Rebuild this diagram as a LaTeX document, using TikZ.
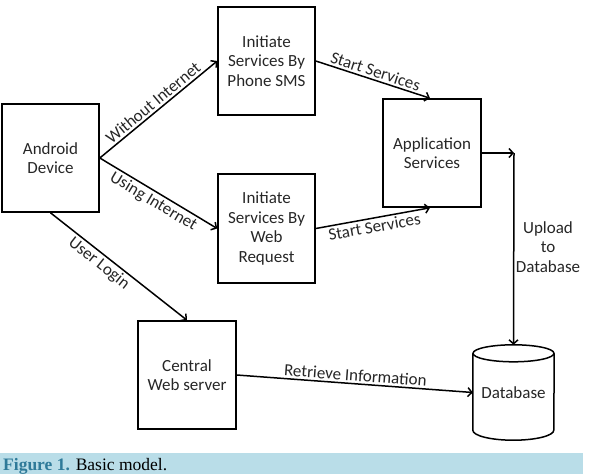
\documentclass[tikz,border=0pt]{standalone}
\usepackage{fontspec}
\setmainfont{Carlito}
\newfontfamily\capfont{Liberation Serif}
\usetikzlibrary{arrows.meta}
\definecolor{txt}{HTML}{262626}
\definecolor{band}{HTML}{B9DDE8}
\definecolor{figc}{HTML}{2E7A99}
\tikzset{
  box/.style={draw, line width=1.6pt, rectangle, align=center, text=txt,
    font=\fontsize{17}{19.5}\selectfont, inner sep=2pt},
  conn/.style={line width=1.5pt, -{Straight Barb[length=4pt,width=9pt,line width=1.5pt]}},
  lbl/.style={text=txt, font=\fontsize{17}{19.5}\selectfont, inner sep=2pt}
}
\begin{document}
\begin{tikzpicture}[x=1pt,y=-1pt]
\useasboundingbox (0,0) rectangle (589,474);
% caption band
\fill[band] (0,453) rectangle (583,474);
\node[anchor=base west, inner sep=0pt, font=\capfont\fontsize{17.5}{20}\selectfont] (cap) at (3,470)
  {\textcolor{figc}{\textbf{Figure 1.}} Basic model.};
% boxes
\node[box, minimum width=97pt, minimum height=108pt] (android) at (50.5,158) {Android\\Device};
\node[box, minimum width=97pt, minimum height=108pt] (sms) at (266.5,61) {Initiate\\Services By\\Phone SMS};
\node[box, minimum width=97pt, minimum height=109pt] (web) at (266.5,228.5) {Initiate\\Services By\\Web\\Request};
\node[box, minimum width=98pt, minimum height=108pt] (app) at (432,153) {Application\\Services};
\node[box, minimum width=98pt, minimum height=108pt] (central) at (187,375) {Central\\Web server};
% database cylinder
\node[lbl, minimum width=81pt, minimum height=95pt] (db) at (513.5,392.5) {\raisebox{-4pt}{Database}};
\draw[line width=1.5pt] ([yshift=-8.5pt]db.north) ellipse [x radius=40.5pt, y radius=8.5pt];
\draw[line width=1.5pt] ([yshift=-8.5pt]db.north west) -- ([yshift=10pt]db.south west)
  arc[start angle=180, end angle=360, x radius=40.5pt, y radius=10pt] -- ([yshift=-8.5pt]db.north east);
\coordinate (corner) at (514,153);
% connectors
\draw[conn] (android.east) -- node[lbl, midway, above, sloped] {Without Internet} (sms.west);
\draw[conn] (android.east) -- node[lbl, midway, below, sloped] {Using Internet} (web.west);
\draw[conn] (sms.east) -- node[lbl, midway, above, sloped] {Start Services} ([xshift=-2pt]app.north);
\draw[conn] (web.east) -- node[lbl, midway, below, sloped] {Start Services} ([xshift=-2pt]app.south);
\draw[conn] (app.east) -- (corner);
\draw[conn] (corner) -- (db.north);
\node[lbl, align=center] (upl) at (548,247) {Upload\\to\\Database};
\draw[conn] (android.south) -- node[lbl, pos=0.4, below, sloped] {User Login} (central.north);
\draw[conn] (central.east) -- node[lbl, midway, above, sloped] {Retrieve Information} (db.west);
\end{tikzpicture}
\end{document}
